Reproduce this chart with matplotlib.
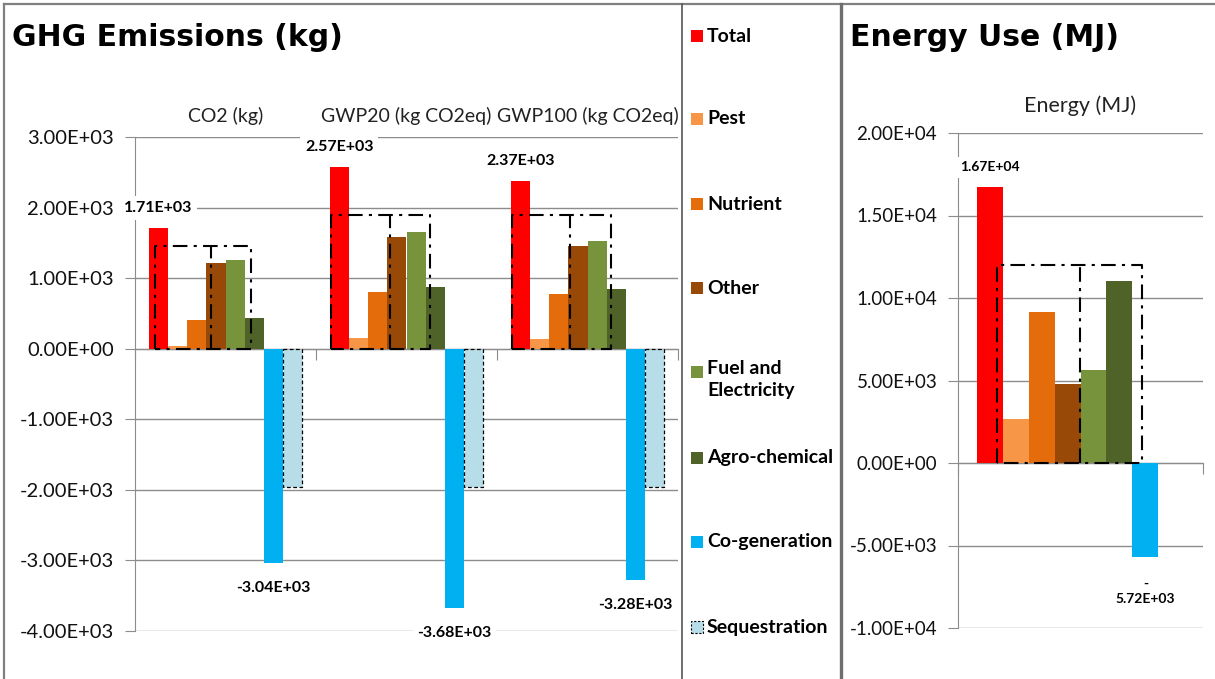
import numpy as np
import matplotlib
matplotlib.use('Agg')
import matplotlib.pyplot as plt
from matplotlib.patches import Rectangle
from matplotlib.lines import Line2D

plt.rcParams['font.family'] = ['Lato', 'DejaVu Sans']

# ---------------- data ----------------
series = ['Total', 'Pest', 'Nutrient', 'Other', 'Fuel and\nElectricity',
          'Agro-chemical', 'Co-generation', 'Sequestration']
colors = ['#FF0000', '#F79646', '#E46C0A', '#984807', '#77933C',
          '#4F6228', '#00B0F0', '#B7DEE8']

ghg_categories = ['CO2 (kg)', 'GWP20 (kg CO2eq)', 'GWP100 (kg CO2eq)']
ghg_total = [1710, 2570, 2370]
ghg_pest = [40, 150, 140]
ghg_nutrient = [410, 810, 780]
ghg_other = [1220, 1590, 1450]
ghg_fuel = [1250, 1660, 1520]
ghg_agro = [440, 880, 850]
ghg_cogen = [-3040, -3680, -3280]
ghg_seq = [-1960, -1960, -1960]
ghg_box_top = [1450, 1890, 1890]
ghg_yticks = [3000, 2000, 1000, 0, -1000, -2000, -3000, -4000]

energy_categories = ['Energy (MJ)']
energy_total = [16700]
energy_pest = [2670]
energy_nutrient = [9150]
energy_other = [4790]
energy_fuel = [5640]
energy_agro = [11030]
energy_cogen = [-5720]
energy_seq = [np.nan]
energy_box_top = [12000]
energy_yticks = [20000, 15000, 10000, 5000, 0, -5000, -10000]

W, H = 1215, 679
fig = plt.figure(figsize=(W / 100, H / 100), dpi=100)
fig.patch.set_facecolor('white')


def fx(px):
    return px / W


def fy(py):
    return 1 - py / H


GRID = '#8C8C8C'


def draw(ax, cats, vals, box_tops, anchors, yticks, lab_size, tick_size,
         cat_size, cat_off, wrap_neg=False):
    n = len(series)
    w = 0.106
    x = np.arange(len(cats))
    for i, (v, c) in enumerate(zip(vals, colors)):
        xs = x + (i - (n - 1) / 2) * w
        if i == n - 1:
            ax.bar(xs, v, w, color=c, edgecolor='black', linewidth=0.9,
                   linestyle=(0, (3, 2)), zorder=3)
        else:
            ax.bar(xs, v, w, color=c, linewidth=0, zorder=3)
    # dash-dot outline boxes
    for g, top in enumerate(box_tops):
        a0, a1, a2 = anchors[g]
        start = g - n / 2 * w
        x0, x1, x2 = start + a0 * w, start + a1 * w, start + a2 * w
        ls = (0, (7, 3, 1.5, 3))
        ax.plot([x0, x0, x2, x2, x0], [0, top, top, 0, 0], color='black',
                lw=1.5, linestyle=ls, zorder=5)
        ax.plot([x1, x1], [0, top], color='black', lw=1.5, linestyle=ls, zorder=5)
    # data labels (total & co-generation)
    tot = vals[0]
    cog = vals[6]
    for g in range(len(cats)):
        xt = g + (0 - (n - 1) / 2) * w
        ax.annotate(f"{tot[g]:.2E}", xy=(xt, tot[g]), xytext=(0, 20),
                    textcoords='offset pixels', ha='center', va='center',
                    fontsize=lab_size, fontweight='bold', zorder=6,
                    bbox=dict(boxstyle='square,pad=0.3', fc='white', ec='none'))
        xc = g + (6 - (n - 1) / 2) * w
        s = f"{cog[g]:.2E}"
        if wrap_neg:
            s = s.replace('-', '-\n', 1)
            off = -34
        else:
            off = -25
        ax.annotate(s, xy=(xc, cog[g]), xytext=(0, off),
                    textcoords='offset pixels', ha='center', va='center',
                    fontsize=lab_size, fontweight='bold', zorder=6,
                    linespacing=1.3,
                    bbox=dict(boxstyle='square,pad=0.3', fc='white', ec='none'))
    # axes styling
    ax.set_xlim(-0.5, len(cats) - 0.5)
    ax.set_ylim(min(yticks), max(yticks))
    ax.set_yticks(yticks)
    ax.set_yticklabels([f"{t:.2E}" for t in yticks])
    ax.yaxis.grid(True, color=GRID, lw=1)
    ax.set_axisbelow(True)
    for s in ['top', 'right']:
        ax.spines[s].set_visible(False)
    ax.spines['left'].set_color(GRID)
    ax.spines['bottom'].set_color(GRID)
    ax.spines['bottom'].set_position(('data', 0))
    ax.set_xticks(np.arange(len(cats) + 1) - 0.5)
    ax.set_xticklabels([])
    ax.tick_params(axis='x', direction='out', length=8, color=GRID)
    ax.tick_params(axis='y', direction='out', length=7, color=GRID,
                   labelsize=tick_size, pad=8, labelcolor='#111111')
    for g, c in enumerate(cats):
        ax.annotate(c, xy=(g, 1), xycoords=('data', 'axes fraction'),
                    xytext=(0, cat_off),
                    textcoords='offset pixels', ha='center', va='center',
                    fontsize=cat_size, color='#222222')


ax1 = fig.add_axes([fx(135), fy(631), fx(678) - fx(135), fy(137) - fy(631)])
draw(ax1, ghg_categories,
     [ghg_total, ghg_pest, ghg_nutrient, ghg_other, ghg_fuel, ghg_agro,
      ghg_cogen, ghg_seq],
     ghg_box_top, [(0.31, 3.23, 5.31), (0.05, 3.13, 5.2), (0.05, 3.07, 5.2)],
     ghg_yticks, 11.5, 14.5, 14, 21)

ax2 = fig.add_axes([fx(958), fy(628), fx(1203) - fx(958), fy(133) - fy(628)])
draw(ax2, energy_categories,
     [energy_total, energy_pest, energy_nutrient, energy_other, energy_fuel,
      energy_agro, energy_cogen, energy_seq],
     energy_box_top, [(0.78, 3.97, 6.38)], energy_yticks, 10, 13.5, 15.5, 27,
     wrap_neg=True)

# titles
fig.text(fx(12), fy(46), 'GHG Emissions (kg)', fontsize=21.5, fontweight='bold',
         ha='left', va='baseline', family=['DejaVu Sans'])
fig.text(fx(850), fy(46), 'Energy Use (MJ)', fontsize=21.5, fontweight='bold',
         ha='left', va='baseline', family=['DejaVu Sans'])

# legend
leg_y = [36, 119, 204, 288, 372, 458, 542, 627]
for lab, col, yy in zip(series, colors, leg_y):
    if lab == 'Sequestration':
        fig.add_artist(Rectangle((fx(691), fy(yy + 6)), fx(12), 12 / H,
                                 transform=fig.transFigure, fc=col, ec='black',
                                 lw=0.8, linestyle=(0, (2, 1.5))))
    else:
        fig.add_artist(Rectangle((fx(691), fy(yy + 6)), fx(12), 12 / H,
                                 transform=fig.transFigure, fc=col, ec='none'))
    if '\n' in lab:
        fig.text(fx(707), fy(yy - 12), lab, fontsize=14, fontweight='bold',
                 ha='left', va='top', linespacing=1.35)
    else:
        fig.text(fx(707), fy(yy), lab, fontsize=14, fontweight='bold',
                 ha='left', va='center')

# frame lines
def fline(x0, y0, x1, y1, color, lw):
    fig.add_artist(Line2D([fx(x0), fx(x1)], [fy(y0), fy(y1)],
                          transform=fig.transFigure, color=color, lw=lw))

fline(4, 4, 840, 4, '#808080', 1.6)
fline(843, 4, 1215, 4, '#808080', 1.6)
fline(4, 4, 4, 679, '#808080', 1.6)
fline(682, 4, 682, 679, '#555555', 1.2)
fline(841, 4, 841, 679, '#6E6E6E', 2.4)

fig.savefig('out.png', dpi=100, facecolor='white')
